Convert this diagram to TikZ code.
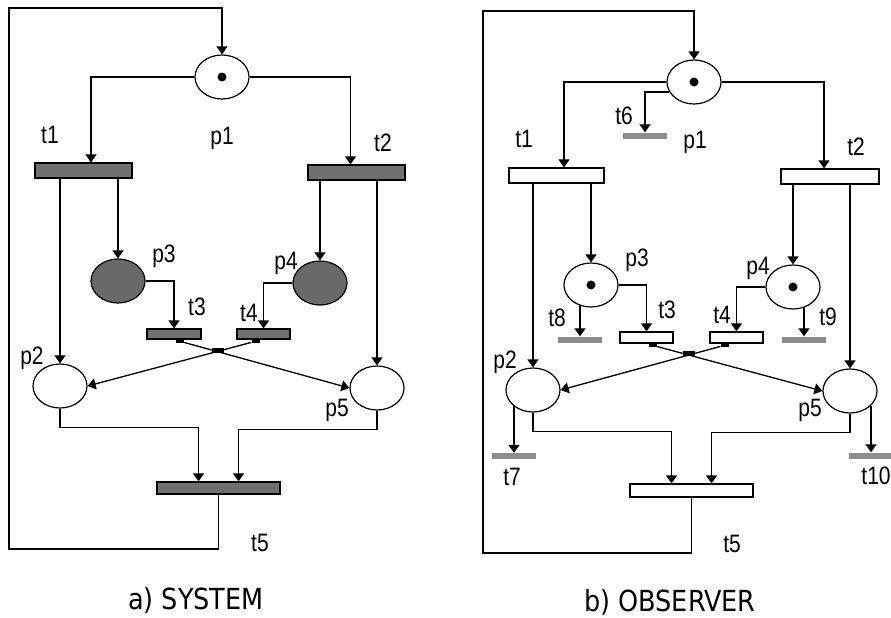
\documentclass[tikz,border=0pt]{standalone}
\usepackage{fontspec}
\usepackage{graphicx}
\setmainfont{Liberation Sans}
\newfontfamily\capfont{DejaVu Sans}
\usetikzlibrary{arrows.meta}
\usetikzlibrary{shapes.geometric}

\definecolor{bargray}{RGB}{112,112,112}
\definecolor{markgray}{RGB}{105,105,105}
\definecolor{sinkgray}{RGB}{140,140,140}

\newcommand{\lbltext}[1]{\scalebox{1}[1.2]{#1}}

\tikzset{
  flow/.style={draw=black, line width=1.3pt, -{Triangle[width=11pt,length=8pt]}},
  place/.style={ellipse, draw=black, line width=1.2pt, fill=white, minimum width=54pt, minimum height=44pt, inner sep=0pt},
  busy/.style={place, fill=markgray},
  trans/.style={rectangle, draw=black, line width=1.2pt, fill=white, inner sep=0pt},
  dark/.style={fill=bargray},
  sink/.style={rectangle, fill=sinkgray, inner sep=0pt, minimum width=44pt, minimum height=6pt},
  foot/.style={rectangle, fill=black, inner sep=0pt, minimum width=8pt, minimum height=3pt},
  token/.style={circle, fill=black, inner sep=0pt, minimum size=9pt},
  lab/.style={inner sep=0pt, font=\fontsize{21}{21}\selectfont},
  heading/.style={inner sep=0pt, font=\capfont\fontsize{29}{29}\selectfont}
}

\begin{document}
\begin{tikzpicture}[x=1pt,y=1pt,yscale=-1,xscale=1]
\useasboundingbox (0,0) rectangle (891,618);

% ---------- a) system ----------
% places
\node[place] (pa1) at (222,77) {};
\node[token] (ka1) at (pa1) {};
\node[place] (pa2) at (60,386) {};
\node[busy]  (pa3) at (118,281) {};
\node[busy]  (pa4) at (320,283) {};
\node[place] (pa5) at (377,388) {};
% transitions
\node[trans,dark,minimum width=97pt,minimum height=15pt] (ta1) at (83.5,170.5) {};
\node[trans,dark,minimum width=97pt,minimum height=15pt] (ta2) at (356.5,172.5) {};
\node[trans,dark,minimum width=54pt,minimum height=10pt] (ta3) at (174,334) {};
\node[trans,dark,minimum width=53pt,minimum height=10pt] (ta4) at (263.5,334) {};
\node[trans,dark,minimum width=123pt,minimum height=12pt] (ta5) at (218.5,488) {};
\node[foot,anchor=north] (fa3) at ([xshift=6]ta3.south) {};
\node[foot,anchor=north] (fa4) at ([xshift=-8]ta4.south) {};
\node[foot,minimum width=12pt,minimum height=5pt] (xa) at (218,350) {};
\coordinate (ca1) at (9,549);
\coordinate (ca2) at (9,8);

%Straight Lines
\draw[flow] (pa1.west) -| ([xshift=7.5]ta1.north);
\draw[flow] (pa1.east) -| ([xshift=-6]ta2.north);
\draw[flow] (pa2 |- ta1.south) -- (pa2.north);
\draw[flow] (pa3 |- ta1.south) -- (pa3.north);
\draw[flow] (pa4 |- ta2.south) -- (pa4.north);
\draw[flow] (pa5 |- ta2.south) -- (pa5.north);
\draw[flow] (pa3.east) -| (ta3.north);
\draw[flow] (pa4.west) -| (ta4.north);
\draw[flow] (fa3) -- (pa5.west);
\draw[flow] (fa4) -- (pa2.east);
\draw[flow] (pa2.south) -- ++(0,19) -| ([xshift=-20]ta5.north);
\draw[flow] (pa5.south) -- ++(0,19) -| ([xshift=20]ta5.north);
\draw[flow] (ta5.south) |- (ca1) -- (ca2) -| (pa1.north);

% Text Node
\node[lab] (la1) at (50,135) {\lbltext{t1}};
\node[lab] (lp1) at (222,138) {\lbltext{p1}};
\node[lab] (la2) at (383,143) {\lbltext{t2}};
\node[lab] (lp3) at (164,256) {\lbltext{p3}};
\node[lab] (lp4) at (286,263) {\lbltext{p4}};
\node[lab] (la3) at (197,307) {\lbltext{t3}};
\node[lab] (la4) at (249,313) {\lbltext{t4}};
\node[lab] (lp2) at (32,358) {\lbltext{p2}};
\node[lab] (lp5) at (337,410) {\lbltext{p5}};
\node[lab] (la5) at (260,543) {\lbltext{t5}};
\node[heading] (capa) at (196,600) {\scalebox{0.88}[1]{a) SYSTEM}};

% ---------- b) observer ----------
% places
\node[place] (pb1) at (694,82) {};
\node[token] (kb1) at (pb1) {};
\node[place] (pb2) at (533,390) {};
\node[place] (pb3) at (591,285) {};
\node[token] (kb3) at (pb3) {};
\node[place] (pb4) at (793,287) {};
\node[token] (kb4) at (pb4) {};
\node[place] (pb5) at (850,391) {};
% transitions
\node[trans,minimum width=95pt,minimum height=15pt] (tb1) at (556.5,175.5) {};
\node[trans,minimum width=98pt,minimum height=15pt] (tb2) at (830,176.5) {};
\node[trans,minimum width=53pt,minimum height=11pt] (tb3) at (646.5,337.5) {};
\node[trans,minimum width=53pt,minimum height=11pt] (tb4) at (736.5,337.5) {};
\node[trans,minimum width=123pt,minimum height=13pt] (tb5) at (691.5,490.5) {};
\node[sink] (tb6) at (645,135.5) {};
\node[sink] (tb7) at (514,456) {};
\node[sink] (tb8) at (580,339.5) {};
\node[sink] (tb9) at (804,339.5) {};
\node[sink] (tb10) at (871,455.5) {};
\node[foot,anchor=north] (fb3) at ([xshift=6]tb3.south) {};
\node[foot,anchor=north] (fb4) at ([xshift=-12]tb4.south) {};
\node[foot,minimum width=12pt,minimum height=5pt] (xb) at (689,353) {};
\coordinate (cb1) at (483,553);
\coordinate (cb2) at (483,11);

%Straight Lines
\draw[flow] (pb1.west) -| ([xshift=7.5]tb1.north);
\draw[flow] (pb1.east) -| ([xshift=-6]tb2.north);
\draw[flow] (pb1.202) -| (tb6.north);
\draw[flow] (pb2 |- tb1.south) -- (pb2.north);
\draw[flow] (pb3 |- tb1.south) -- (pb3.north);
\draw[flow] (pb4 |- tb2.south) -- (pb4.north);
\draw[flow] (pb5 |- tb2.south) -- (pb5.north);
\draw[flow] (pb3.east) -| (tb3.north);
\draw[flow] (pb4.west) -| (tb4.north);
\draw[flow] (tb8.north |- pb3.240) -- (tb8.north);
\draw[flow] (tb9.north |- pb4.300) -- (tb9.north);
\draw[flow] (fb3) -- (pb5.west);
\draw[flow] (fb4) -- (pb2.east);
\draw[flow] (tb7.north |- pb2.217) -- (tb7.north);
\draw[flow] (tb10.north |- pb5.323) -- (tb10.north);
\draw[flow] (pb2.south) -- ++(0,19) -| ([xshift=-20]tb5.north);
\draw[flow] (pb5.south) -- ++(0,19) -| ([xshift=20]tb5.north);
\draw[flow] (tb5.south) |- (cb1) -- (cb2) -| (pb1.north);

% Text Node
\node[lab] (lb1) at (524,139) {\lbltext{t1}};
\node[lab] (lq1) at (695,142) {\lbltext{p1}};
\node[lab] (lb6) at (624,116) {\lbltext{t6}};
\node[lab] (lb2) at (856,147) {\lbltext{t2}};
\node[lab] (lq3) at (637,260) {\lbltext{p3}};
\node[lab] (lq4) at (758,268) {\lbltext{p4}};
\node[lab] (lb3) at (667,310) {\lbltext{t3}};
\node[lab] (lb4) at (722,315) {\lbltext{t4}};
\node[lab] (lb8) at (557,318) {\lbltext{t8}};
\node[lab] (lb9) at (828,317) {\lbltext{t9}};
\node[lab] (lq2) at (505,362) {\lbltext{p2}};
\node[lab] (lq5) at (810,410) {\lbltext{p5}};
\node[lab] (lb7) at (512,477) {\lbltext{t7}};
\node[lab] (lb10) at (876,476) {\lbltext{t10}};
\node[lab] (lb5) at (732,544) {\lbltext{t5}};
\node[heading] (capb) at (670,602) {\scalebox{0.88}[1]{b) OBSERVER}};

\end{tikzpicture}
\end{document}
